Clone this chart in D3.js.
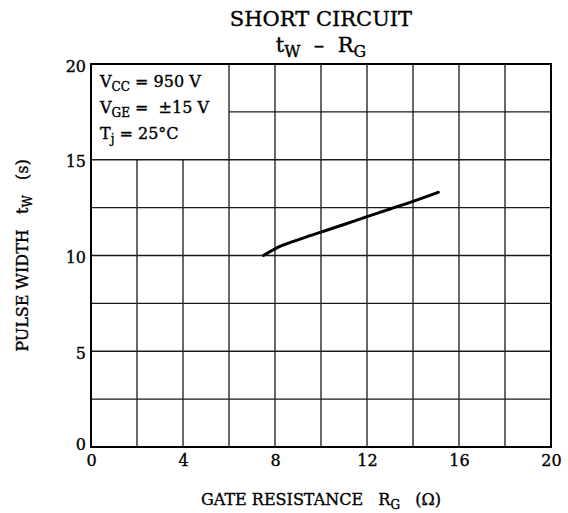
<!DOCTYPE html>
<html>
<head>
<meta charset="utf-8">
<script src="https://cdn.jsdelivr.net/npm/d3@7"></script>
<style>
  body { margin: 0; background: #fff; }
  svg text { font-family: "DejaVu Serif", "Liberation Serif", serif; fill: #000; stroke: #000; stroke-width: 0.35px; }
</style>
</head>
<body>
<div id="chart"></div>
<script>
// Data
const xTicks = [0, 4, 8, 12, 16, 20];
const yTicks = [0, 5, 10, 15, 20];
const xGrid = [2, 4, 6, 8, 10, 12, 14, 16, 18];
const yGrid = [2.5, 5, 7.5, 10, 12.5, 15, 17.5];
const rgValues = [7.5, 8, 9, 10, 11, 12, 13, 14, 15.1];
const twValues = [10.0, 10.35, 10.82, 11.22, 11.62, 12.03, 12.43, 12.83, 13.3];

// Set the dimensions and margins of the graph
const W = 568, H = 513;
const margin = { top: 64, right: 17, bottom: 66, left: 91 },
    width = W - margin.left - margin.right,
    height = H - margin.top - margin.bottom;

const svg = d3.select("#chart")
    .append("svg")
    .attr("width", W)
    .attr("height", H);

const g = svg.append("g")
    .attr("transform", `translate(${margin.left},${margin.top})`);

const x = d3.scaleLinear().domain([0, 20]).range([0, width]);
const y = d3.scaleLinear().domain([0, 20]).range([height, 0]);

// Grid lines (legend area top-left is left blank)
g.selectAll("line.vgrid")
    .data(xGrid)
    .enter()
    .append("line")
    .attr("class", "vgrid")
    .attr("x1", d => x(d))
    .attr("x2", d => x(d))
    .attr("y1", d => d < 6 ? y(15) : y(20))
    .attr("y2", y(0))
    .style("stroke", "#1a1a1a")
    .style("stroke-width", "1.3px");

g.selectAll("line.hgrid")
    .data(yGrid)
    .enter()
    .append("line")
    .attr("class", "hgrid")
    .attr("x1", d => d > 15 ? x(6) : x(0))
    .attr("x2", x(20))
    .attr("y1", d => y(d))
    .attr("y2", d => y(d))
    .style("stroke", "#1a1a1a")
    .style("stroke-width", "1.3px");

// Frame
g.append("rect")
    .attr("width", width)
    .attr("height", height)
    .style("fill", "none")
    .style("stroke", "#000")
    .style("stroke-width", "2px");

// Axes (labels only)
const xAxis = g.append("g")
    .attr("transform", `translate(0,${height})`)
    .call(d3.axisBottom(x).tickValues(xTicks).tickSize(0).tickPadding(4));
xAxis.select(".domain").remove();
xAxis.selectAll("text")
    .style("font-size", "16px")
    .style("font-family", "'DejaVu Serif', serif")
    .attr("dy", "0.95em");

const yAxis = g.append("g")
    .call(d3.axisLeft(y).tickValues(yTicks).tickSize(0).tickPadding(5));
yAxis.select(".domain").remove();
yAxis.selectAll("text")
    .style("font-size", "16px")
    .style("font-family", "'DejaVu Serif', serif")
    .attr("dy", d => d === 0 ? "0.15em" : "0.45em");

// Curve
const line = d3.line()
    .x((d, i) => x(rgValues[i]))
    .y(d => y(d))
    .curve(d3.curveMonotoneX);

g.append("path")
    .datum(twValues)
    .attr("d", line)
    .style("fill", "none")
    .style("stroke", "#000")
    .style("stroke-width", "3px")
    .style("stroke-linecap", "round");

// Helper for text with subscripts
function richText(sel, parts, size) {
    parts.forEach(p => {
        const t = sel.append("tspan").text(p.t);
        if (p.sub) {
            t.style("font-size", (size * 0.75) + "px").attr("dy", "0.32em");
        } else if (p.after) {
            t.attr("dy", "-0.24em");
        }
    });
}

// Title
svg.append("text")
    .attr("x", margin.left + width / 2)
    .attr("y", 26)
    .attr("text-anchor", "middle")
    .style("font-size", "21px")
    .text("SHORT CIRCUIT");

const t2 = svg.append("text")
    .attr("x", margin.left + width / 2)
    .attr("y", 52)
    .attr("text-anchor", "middle")
    .style("font-size", "21px")
    .attr("xml:space", "preserve");
richText(t2, [
    { t: "t" }, { t: "W", sub: true }, { t: "  \u2013  R", after: true }, { t: "G", sub: true }
], 21);

// Legend text
const legend = [
    [{ t: "V" }, { t: "CC", sub: true }, { t: " = 950 V", after: true }],
    [{ t: "V" }, { t: "GE", sub: true }, { t: " =  \u00b115 V", after: true }],
    [{ t: "T" }, { t: "j", sub: true }, { t: " = 25\u00b0C", after: true }]
];
legend.forEach((parts, i) => {
    const t = g.append("text")
        .attr("x", 9)
        .attr("y", 23 + i * 26)
        .style("font-size", "16px")
        .attr("xml:space", "preserve");
    richText(t, parts, 16);
});

// X axis label
const xl = svg.append("text")
    .attr("x", margin.left + width / 2)
    .attr("y", 505)
    .attr("text-anchor", "middle")
    .style("font-size", "16px")
    .attr("xml:space", "preserve");
richText(xl, [
    { t: "GATE RESISTANCE   R" }, { t: "G", sub: true }, { t: "   (\u03a9)", after: true }
], 16);

// Y axis label
const yl = svg.append("text")
    .attr("transform", `translate(28,${margin.top + height / 2}) rotate(-90)`)
    .attr("text-anchor", "middle")
    .style("font-size", "16px")
    .attr("xml:space", "preserve");
richText(yl, [
    { t: "PULSE WIDTH   t" }, { t: "W", sub: true }, { t: "   (s)", after: true }
], 16);
</script>
</body>
</html>
